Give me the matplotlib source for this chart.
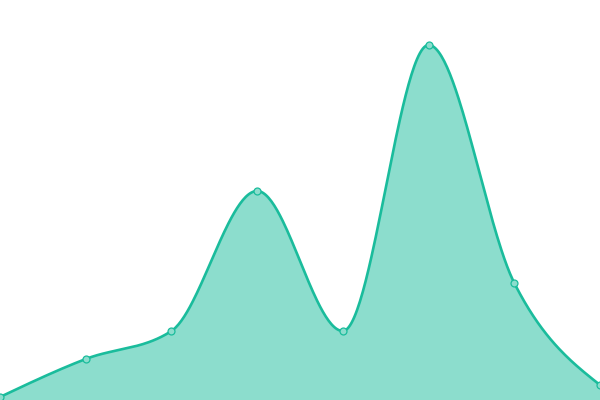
import numpy as np
import matplotlib.pyplot as plt

# values (pixel height above bottom edge)
x_idx = [0, 1, 2, 3, 4, 5, 6, 7]
values = [3, 41, 69, 209, 69, 355, 117, 15]

line_color = '#1abc9c'
fill_color = '#8cddcd'


def monotone_x(x, y, n=60):
    # d3 curveMonotoneX style (Steffen) hermite spline
    x = np.asarray(x, float)
    y = np.asarray(y, float)
    h = np.diff(x)
    s = np.diff(y) / h
    t = np.zeros_like(y)
    for i in range(1, len(y) - 1):
        p = (s[i - 1] * h[i] + s[i] * h[i - 1]) / (h[i - 1] + h[i])
        t[i] = (np.sign(s[i - 1]) + np.sign(s[i])) * min(abs(s[i - 1]), abs(s[i]), 0.5 * abs(p))
    t[0] = (3 * s[0] - t[1]) / 2 if len(y) > 2 else s[0]
    t[-1] = (3 * s[-1] - t[-2]) / 2 if len(y) > 2 else s[-1]
    xs, ys = [], []
    for i in range(len(h)):
        u = np.linspace(0, 1, n, endpoint=(i == len(h) - 1))
        h00 = 2 * u**3 - 3 * u**2 + 1
        h10 = u**3 - 2 * u**2 + u
        h01 = -2 * u**3 + 3 * u**2
        h11 = u**3 - u**2
        xs.append(x[i] + u * h[i])
        ys.append(h00 * y[i] + h10 * h[i] * t[i] + h01 * y[i + 1] + h11 * h[i] * t[i + 1])
    return np.concatenate(xs), np.concatenate(ys)


fig = plt.figure(figsize=(6, 4), dpi=100)
ax = fig.add_axes([0, 0, 1, 1])

cx, cy = monotone_x(x_idx, values)
ax.fill_between(cx, 0, cy, color=line_color, alpha=0.5, linewidth=0)
ax.plot(cx, cy, color=line_color, linewidth=1.9, solid_capstyle='round')
ax.plot(x_idx, values, 'o', markersize=5, markerfacecolor=fill_color,
        markeredgecolor=line_color, markeredgewidth=0.9, clip_on=True)

ax.set_xlim(0, 7)
ax.set_ylim(0, 400)
ax.axis('off')

fig.savefig('out.png', dpi=100)
